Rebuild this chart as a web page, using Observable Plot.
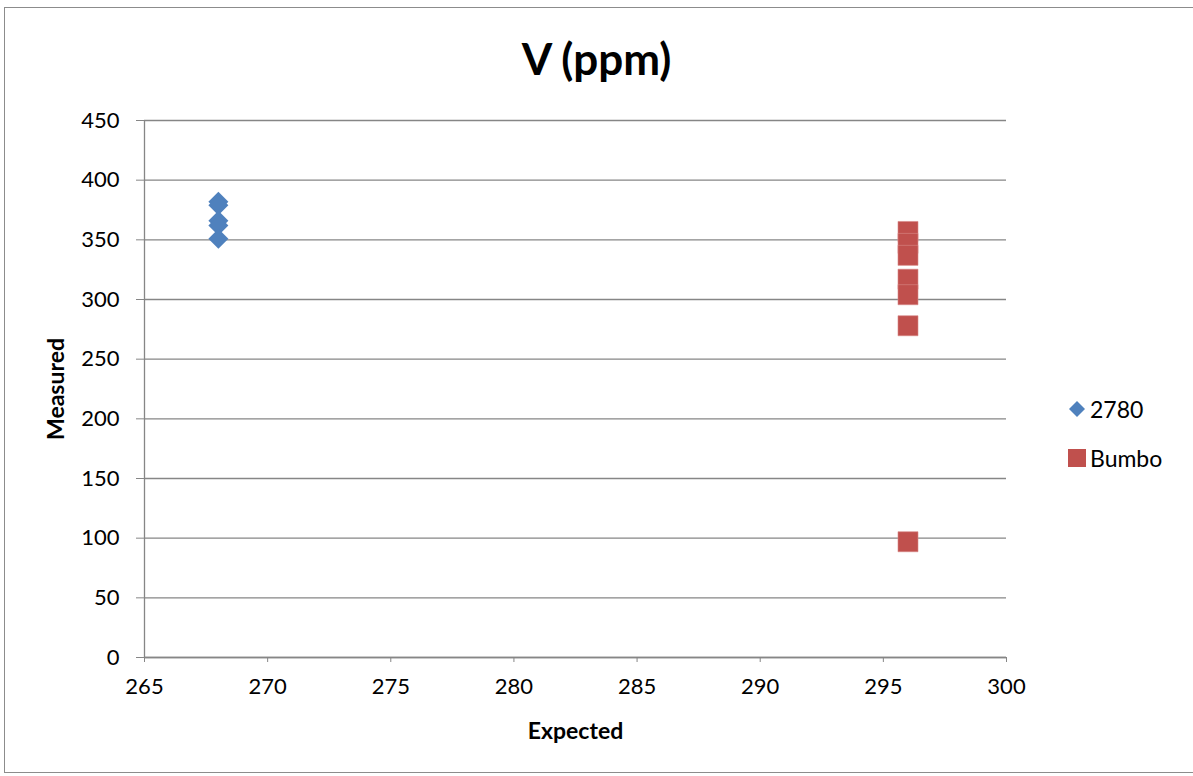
<!DOCTYPE html>
<html>
<head>
<meta charset="utf-8">
<script src="https://cdn.jsdelivr.net/npm/d3@7"></script>
<script src="https://cdn.jsdelivr.net/npm/@observablehq/plot@0.6"></script>
<style>
  html, body { margin: 0; padding: 0; background: #fff; }
  body { width: 1193px; height: 776px; position: relative; overflow: hidden; font-family: Lato, "Liberation Sans", sans-serif; }
  #frame { position: absolute; left: 4px; top: 7px; width: 1200px; height: 766px; border: 1.5px solid #8c8c8c; box-sizing: border-box; }
  #title { position: absolute; left: 0; width: 1193px; top: 31px; text-align: center; font-weight: bold; font-size: 44px; line-height: 54px; color: #000; }
  #chart { position: absolute; left: 0; top: 0; }
  .leg { position: absolute; left: 1068px; font-size: 23px; color: #000; display: flex; align-items: center; }
  .leg svg { margin-right: 4px; }
</style>
</head>
<body>
<div id="frame"></div>
<div id="chart"></div>
<div id="title">V (ppm)</div>
<div class="leg" style="top:395px"><svg width="18" height="20"><path d="M9,2 L17,10 L9,18 L1,10 Z" fill="#4F81BD"/></svg>2780</div>
<div class="leg" style="top:444px"><svg width="18" height="20"><rect x="0" y="1" width="18" height="18" fill="#C0504D"/></svg>Bumbo</div>
<script>
const seriesNames = ["2780", "Bumbo"];
const expected2780 = [268, 268, 268, 268, 268];
const measured2780 = [382, 379, 366, 362, 351];
const expectedBumbo = [296, 296, 296, 296, 296, 296, 296];
const measuredBumbo = [357, 347, 337, 317, 304, 278, 97];
const xTicks = [265, 270, 275, 280, 285, 290, 295, 300];
const yTicks = [0, 50, 100, 150, 200, 250, 300, 350, 400, 450];

const d2780 = expected2780.map((x, i) => ({x, y: measured2780[i], s: seriesNames[0]}));
const dBumbo = expectedBumbo.map((x, i) => ({x, y: measuredBumbo[i], s: seriesNames[1]}));

const chart = Plot.plot({
  width: 1193,
  height: 770,
  marginLeft: 144,
  marginRight: 187,
  marginTop: 120,
  marginBottom: 113,
  style: { fontFamily: "Lato, 'Liberation Sans', sans-serif", fontSize: "22px", color: "#000", background: "transparent" },
  x: { domain: [265, 300], ticks: xTicks, label: null },
  y: { domain: [0, 450], ticks: yTicks, label: null },
  marks: [
    Plot.gridY(yTicks, { stroke: "#868686", strokeOpacity: 1, strokeWidth: 1.3 }),
    Plot.ruleX([265], { stroke: "#868686", strokeWidth: 1.3 }),
    Plot.ruleY([0], { stroke: "#868686", strokeWidth: 1.3 }),
    Plot.axisX(xTicks, { tickSize: 5, tickPadding: 16, stroke: "#868686", fontSize: 22, fill: "#000" }),
    Plot.axisY(yTicks, { tickSize: 8, tickPadding: 17, stroke: "#868686", fontSize: 22, fill: "#000" }),
    Plot.dot(d2780, { x: "x", y: "y", symbol: "diamond2", r: 9, fill: "#4F81BD", stroke: "none" }),
    Plot.dot(dBumbo, { x: "x", y: "y", symbol: "square", r: 11.3, fill: "#C0504D", stroke: "#d98a88", strokeWidth: 0.6 }),
    Plot.text(["Expected"], { frameAnchor: "bottom", dy: 74, fontWeight: "bold", fontSize: 23, fill: "#000", textAnchor: "middle", lineAnchor: "middle" }),
    Plot.text(["Measured"], { frameAnchor: "left", dx: -88, rotate: -90, fontWeight: "bold", fontSize: 23, fill: "#000", textAnchor: "middle" })
  ]
});
document.getElementById("chart").appendChild(chart);
</script>
</body>
</html>
